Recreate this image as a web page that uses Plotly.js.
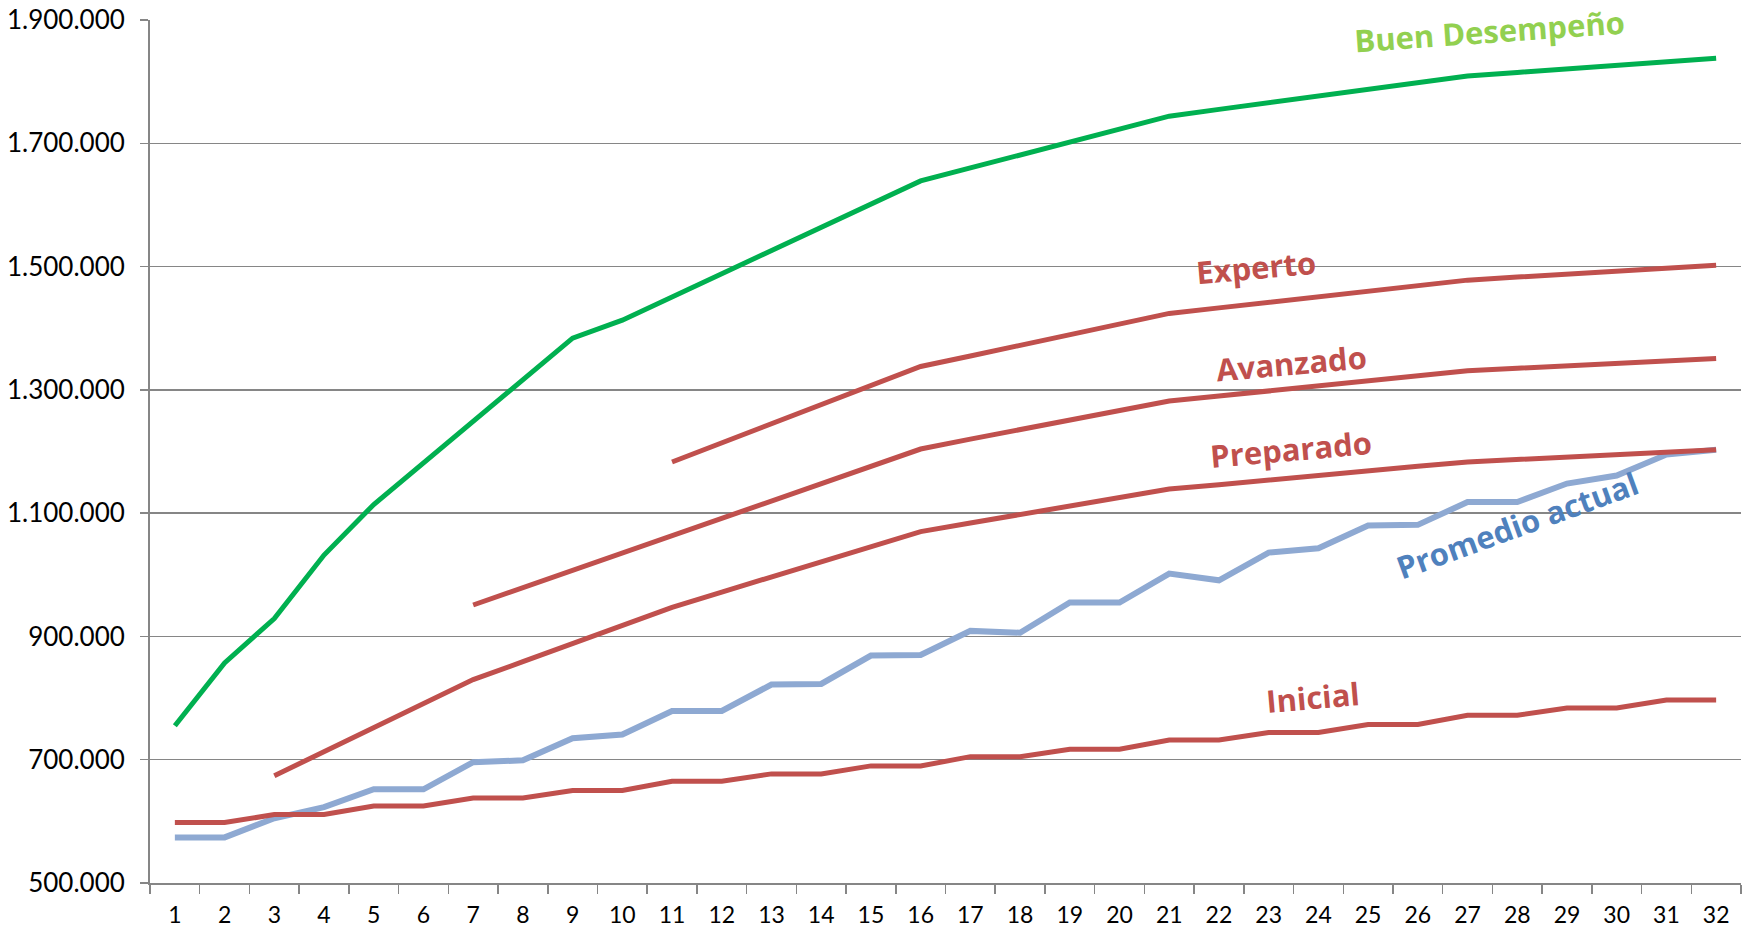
<!DOCTYPE html>
<html>
<head>
<meta charset="utf-8">
<script src="https://cdn.plot.ly/plotly-3.0.1.min.js"></script>
<style>html,body{margin:0;padding:0;background:#fff;}#chart{width:1750px;height:932px;}</style>
</head>
<body>
<div id="chart"></div>
<script>
var categories = [1,2,3,4,5,6,7,8,9,10,11,12,13,14,15,16,17,18,19,20,21,22,23,24,25,26,27,28,29,30,31,32];

var buenDesempeno = [755000,857000,929000,1032000,1114000,1181000,1250000,1317000,1384000,1413000,1451000,1489000,1527000,1563000,1601000,1639000,1660000,1681000,1702000,1723000,1744000,1755000,1766000,1777000,1788000,1799000,1809000,1815000,1821000,1826000,1832000,1838000];

var experto = [null,null,null,null,null,null,null,null,null,null,1183000,1214000,1245000,1276000,1307000,1338000,1355000,1372000,1390000,1407000,1424000,1433000,1442000,1451000,1460000,1469000,1478000,1483000,1488000,1492000,1497000,1502000];

var avanzado = [null,null,null,null,null,null,951000,979000,1007000,1036000,1064000,1092000,1120000,1148000,1176000,1204000,1220000,1235000,1251000,1266000,1282000,1290000,1298000,1307000,1315000,1323000,1331000,1335000,1339000,1343000,1347000,1351000];

var preparado = [null,null,674000,713000,752000,791000,830000,859000,888000,918000,947000,972000,997000,1021000,1046000,1070000,1084000,1098000,1111000,1125000,1139000,1146000,1154000,1161000,1168000,1176000,1183000,1187000,1191000,1195000,1199000,1203000];

var inicial = [598000,598000,611000,611000,625000,625000,638000,638000,650000,650000,665000,665000,677000,677000,690000,690000,705000,705000,717000,717000,732000,732000,744000,744000,757000,757000,772000,772000,784000,784000,797000,797000];

var promedioActual = [574000,574000,605000,623000,652000,652000,696000,699000,735000,741000,779000,779000,822000,823000,869000,870000,909000,906000,955000,955000,1002000,991000,1036000,1043000,1080000,1081000,1118000,1118000,1148000,1161000,1195000,1203000];

var yTickVals = [500000,700000,900000,1100000,1300000,1500000,1700000,1900000];

var seriesLabels = [
  {text:"Buen Desempeño", x:27.45, y:1882000, color:"#92D050", angle:-4},
  {text:"Experto", x:22.75, y:1499000, color:"#C0504D", angle:-5},
  {text:"Avanzado", x:23.45, y:1343000, color:"#C0504D", angle:-5},
  {text:"Preparado", x:23.45, y:1204000, color:"#C0504D", angle:-5},
  {text:"Promedio actual", x:28.0, y:1081000, color:"#4F81BD", angle:-20},
  {text:"Inicial", x:23.9, y:801000, color:"#C0504D", angle:-5}
];

var xs = categories.map(String);
function line(y, color, width){
  return {x: xs, y: y, type:'scatter', mode:'lines', connectgaps:false,
    line:{color:color, width:width}, hoverinfo:'skip', showlegend:false};
}

var data = [
  line(promedioActual, '#8EA9D2', 6),
  line(inicial, '#C0504D', 5),
  line(preparado, '#C0504D', 5),
  line(avanzado, '#C0504D', 5),
  line(experto, '#C0504D', 5),
  line(buenDesempeno, '#00B050', 5)
];

// category axis: numeric annotation x is the category index (0-based)
var annotations = seriesLabels.map(function(s){
  return {text: s.text, x: s.x - 1, y: s.y,
    xref:'x', yref:'y', showarrow:false, textangle:s.angle,
    font:{family:'"Open Sans", Lato, sans-serif', size:31, color:s.color, weight:700}};
});

var layout = {
  width:1750, height:932,
  margin:{l:150, r:9, t:20, b:49},
  paper_bgcolor:'#fff', plot_bgcolor:'#fff',
  separators: ',.',
  font:{family:'Lato, "Open Sans", sans-serif', size:23, color:'#000'},
  xaxis:{type:'category', categoryorder:'array', categoryarray: xs, range:[-0.5, 31.5],
    tickson:'boundaries', ticks:'outside', ticklen:9, tickwidth:1.5, tickcolor:'#868686',
    showline:true, linecolor:'#868686', linewidth:2, showgrid:false, zeroline:false,
    tickfont:{size:23, color:'#000'}, ticklabelstandoff:10, fixedrange:true},
  yaxis:{range:[500000,1900000], tickvals:yTickVals, tickformat:',d',
    ticks:'outside', ticklen:8, tickwidth:1.5, tickcolor:'#868686',
    showline:true, linecolor:'#868686', linewidth:2,
    showgrid:true, gridcolor:'#868686', gridwidth:1.5, zeroline:false,
    tickfont:{size:26, color:'#000'}, ticklabelstandoff:10, fixedrange:true},
  annotations: annotations
};

Plotly.newPlot('chart', data, layout, {displayModeBar:false, staticPlot:true});
</script>
</body>
</html>
